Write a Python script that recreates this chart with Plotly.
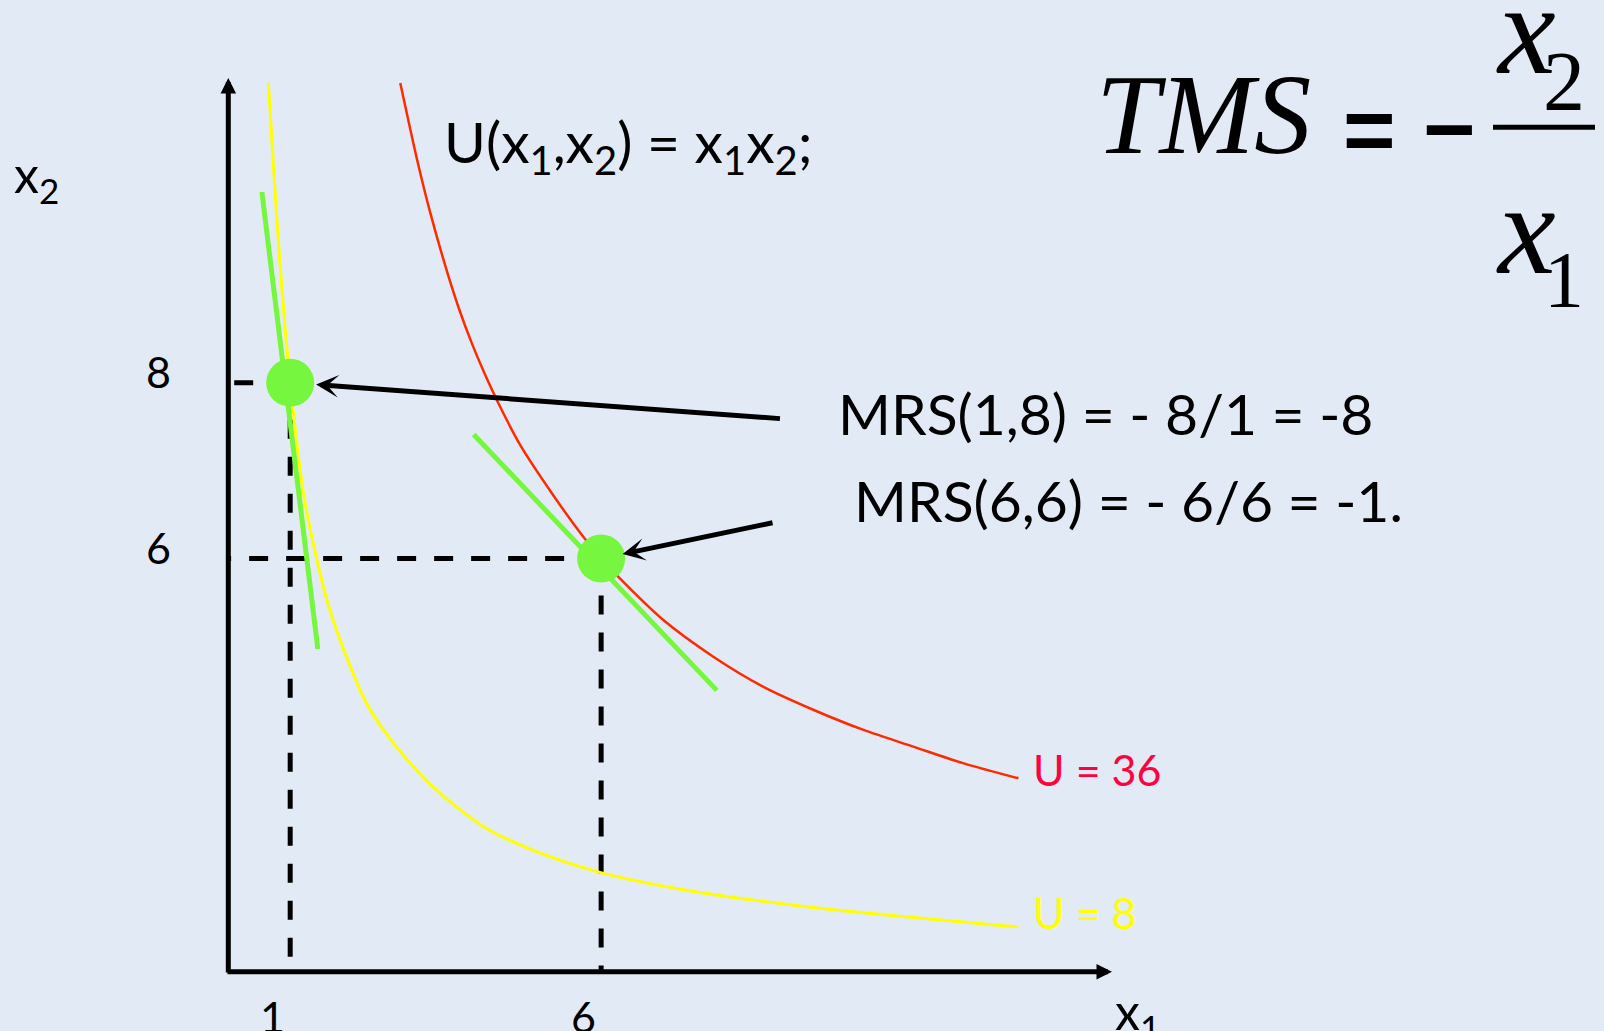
import plotly.graph_objects as go

W, H = 1604, 1031

# ---------------- data ----------------
# indifference curve U = 8  (x1, x2 pairs)
u8_x1 = [0.65, 0.82, 1.00, 1.23, 1.64, 2.23, 2.66, 3.30, 4.11, 4.91, 5.98, 7.35,
         9.30, 12.71]
u8_x2 = [11.41, 9.51, 8.00, 6.67, 5.41, 4.35, 3.90, 3.40, 2.95, 2.68, 2.43, 2.23,
         2.04, 1.81]

# indifference curve U = 36
u36_x1 = [2.77, 3.04, 3.25, 3.52, 3.73, 3.92, 4.11, 4.38, 4.70, 5.23, 5.71, 6.00,
          6.25, 7.00, 7.81, 8.61, 9.41, 10.22, 11.02, 11.83, 12.71]
u36_x2 = [11.41, 10.54, 9.94, 9.27, 8.81, 8.45, 8.13, 7.72, 7.29, 6.72, 6.25, 6.00,
          5.81, 5.30, 4.88, 4.54, 4.28, 4.05, 3.86, 3.67, 3.50]

# bundles where the MRS is evaluated
bundle_x1 = [1, 6]
bundle_x2 = [8, 6]

# tangent segments at each bundle
tangent1_x1 = [0.545, 1.445]
tangent1_x2 = [10.17, 4.97]
tangent2_x1 = [3.95, 7.86]
tangent2_x2 = [7.41, 4.50]

# pointer arrows from the MRS text to each bundle (tail positions)
pointer_x1 = [8.90, 8.78]
pointer_x2 = [7.59, 6.41]

x1_ticks = [1, 6]
x1_tick_text = ["1", "6"]
x2_ticks = [8, 6]
x2_tick_text = ["8", "6"]

curve_labels = ["U = 36", "U = 8"]
mrs_labels = ["MRS(1,8) = - 8/1 = -8", "MRS(6,6) = - 6/6 = -1."]
utility_text = "U(x<sub>1</sub>,x<sub>2</sub>) = x<sub>1</sub>x<sub>2</sub>;"

X_RANGE = [0.0, 14.215]
Y_RANGE = [1.30, 11.466]

# ---------------- styling ----------------
BG = "#E2EBF5"
GREEN = "#76F63F"
YELLOW = "#FFFF00"
RED_LINE = "#FF2A00"
RED_TEXT = "#FF0040"
SANS = "Lato"
SERIF = "Liberation Serif"
DASH = "19px,18px"


def px(x):
    return x / W


def py(y):
    return 1 - y / H


def label(x, y, text, size, family=SANS, color="black", xanchor="left", **kw):
    return dict(x=px(x), y=py(y), xref="paper", yref="paper", text=text,
                showarrow=False, xanchor=xanchor, yanchor="middle",
                font=dict(family=family, size=size, color=color), **kw)


fig = go.Figure()

# dashed guides from each bundle down to the x1 axis and across to the x2 axis
for bx, by in zip(bundle_x1, bundle_x2):
    fig.add_trace(go.Scatter(x=[bx, bx], y=[by, Y_RANGE[0]], mode="lines",
                             line=dict(color="black", width=5, dash=DASH),
                             hoverinfo="skip"))
    fig.add_trace(go.Scatter(x=[bx, X_RANGE[0]], y=[by, by], mode="lines",
                             line=dict(color="black", width=5, dash=DASH),
                             hoverinfo="skip"))

# indifference curves
fig.add_trace(go.Scatter(x=u8_x1, y=u8_x2, mode="lines",
                         line=dict(color=YELLOW, width=3, shape="spline", smoothing=0.8),
                         name="U = 8"))
fig.add_trace(go.Scatter(x=u36_x1, y=u36_x2, mode="lines",
                         line=dict(color=RED_LINE, width=2.5, shape="spline", smoothing=0.8),
                         name="U = 36"))

# tangents
fig.add_trace(go.Scatter(x=tangent1_x1, y=tangent1_x2, mode="lines",
                         line=dict(color=GREEN, width=5), hoverinfo="skip"))
fig.add_trace(go.Scatter(x=tangent2_x1, y=tangent2_x2, mode="lines",
                         line=dict(color=GREEN, width=5), hoverinfo="skip"))

# bundles
fig.add_trace(go.Scatter(x=bundle_x1, y=bundle_x2, mode="markers",
                         marker=dict(color=GREEN, size=48, line=dict(width=0))))

ann = []

# axes drawn as arrows
ann.append(dict(x=px(228.3), y=py(78), xref="paper", yref="paper", text="",
                showarrow=True, ax=0, ay=896, arrowhead=2, arrowsize=0.62,
                arrowwidth=5, arrowcolor="black"))
ann.append(dict(x=px(1112), y=py(971.7), xref="paper", yref="paper", text="",
                showarrow=True, ax=-886, ay=0, arrowhead=2, arrowsize=0.62,
                arrowwidth=5, arrowcolor="black"))

# pointer arrows
for bx, by, tx, ty, so in zip(bundle_x1, bundle_x2, pointer_x1, pointer_x2, [26, 22]):
    ann.append(dict(x=bx, y=by, xref="x", yref="y", ax=tx, ay=ty, axref="x", ayref="y",
                    text="", showarrow=True, arrowhead=3, arrowsize=0.75,
                    arrowwidth=5, arrowcolor="black", standoff=so))

# tick labels
for v, t in zip(x1_ticks, x1_tick_text):
    ann.append(dict(x=v, y=py(1016), xref="x", yref="paper", text=t, showarrow=False,
                    xanchor="center", yanchor="middle", xshift=-18,
                    font=dict(family=SANS, size=43, color="black")))
for v, t in zip(x2_ticks, x2_tick_text):
    ann.append(dict(x=px(158), y=v, xref="paper", yref="y", text=t, showarrow=False,
                    xanchor="center", yanchor="middle", yshift=11,
                    font=dict(family=SANS, size=43, color="black")))

# axis names
ann.append(label(12, 177, "x<sub>2</sub>", 50))
ann.append(label(1113, 1014, "x<sub>1</sub>", 50))

# utility function
ann.append(label(442, 145, utility_text, 57))

# MRS statements
for t, xl, yc in zip(mrs_labels, [836, 852], [413, 500]):
    ann.append(label(xl, yc, t, 57))

# curve labels
for t, col, yc in zip(curve_labels, [RED_TEXT, YELLOW], [769, 912]):
    ann.append(label(1031, yc, t, 43, color=col))

# TMS formula
ann.append(label(1203, 115, "<i>TMS</i>", 114, family=SERIF, xanchor="center"))
ann.append(label(1369, 130, "<b>=</b>", 90, family="Liberation Sans", xanchor="center"))
ann.append(label(1449, 129, "<b>\u2212</b>", 90, family="Liberation Sans", xanchor="center"))
ann.append(label(1526, 29, "<i>x</i>", 130, family=SERIF, xanchor="center"))
ann.append(label(1564, 82, "2", 84, family=SERIF, xanchor="center"))
ann.append(label(1526, 229, "<i>x</i>", 130, family=SERIF, xanchor="center"))
ann.append(label(1564, 280, "1", 80, family=SERIF, xanchor="center"))

shapes = [dict(type="line", xref="paper", yref="paper", x0=px(1493), x1=px(1595),
               y0=py(127.3), y1=py(127.3), line=dict(color="black", width=5))]

fig.update_layout(
    width=W, height=H, margin=dict(l=0, r=0, t=0, b=0),
    paper_bgcolor=BG, plot_bgcolor=BG, showlegend=False,
    annotations=ann, shapes=shapes,
    xaxis=dict(domain=[px(228), px(1112)], range=X_RANGE, visible=False, fixedrange=True),
    yaxis=dict(domain=[py(971.7), py(78)], range=Y_RANGE, visible=False, fixedrange=True),
)

fig.write_html("out.html")
